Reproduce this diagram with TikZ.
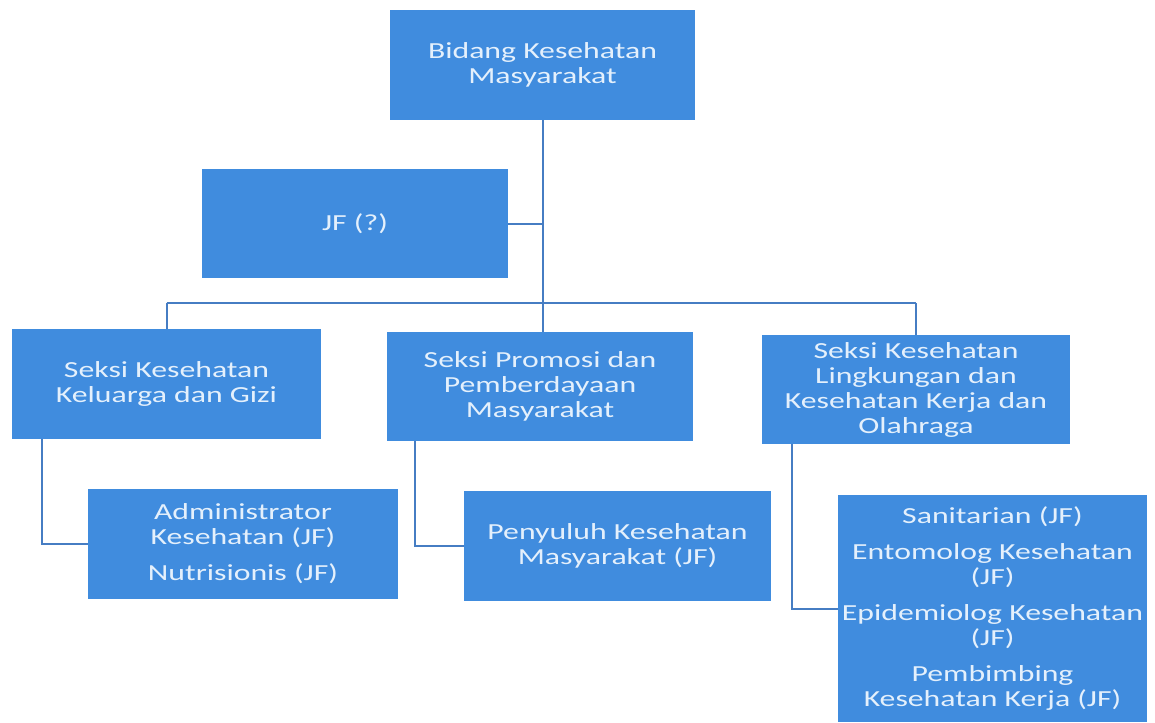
\documentclass[tikz,border=0pt]{standalone}
\usepackage{fontspec}
\setmainfont{Carlito}[FakeStretch=1.38]
\definecolor{boxblue}{RGB}{64,140,222}
\definecolor{lineblue}{RGB}{70,125,195}
\definecolor{txt}{RGB}{228,240,252}
\begin{document}
\begin{tikzpicture}[x=0.5pt,y=-0.5pt,
  orgbox/.style={fill=boxblue, draw=none, text=txt, align=center, inner sep=0pt,
    font=\fontsize{11.5}{12.5}\selectfont},
  link/.style={draw=lineblue, line width=1pt}]
\useasboundingbox (0,0) rectangle (1155,722);
\node[orgbox, minimum width=152.5pt, minimum height=55pt] (top) at (542.5,65) {Bidang Kesehatan\\Masyarakat};
\node[orgbox, minimum width=153pt, minimum height=54.5pt] (jf) at (355,223.5) {JF (?)};
\node[orgbox, minimum width=154.5pt, minimum height=55pt] (l) at (166.5,384) {Seksi Kesehatan\\Keluarga dan Gizi};
\node[orgbox, minimum width=153pt, minimum height=54.5pt] (m) at (540,386.5) {Seksi Promosi dan\\Pemberdayaan\\Masyarakat};
\node[orgbox, minimum width=154pt, minimum height=54.5pt] (r) at (916,389.5) {Seksi Kesehatan\\Lingkungan dan\\Kesehatan Kerja dan\\Olahraga};
\node[orgbox, minimum width=155pt, minimum height=55pt] (lk) at (243,544) {Administrator\\Kesehatan (JF)\\[5.5pt]Nutrisionis (JF)};
\node[orgbox, minimum width=153.5pt, minimum height=55pt] (mk) at (617.5,546) {Penyuluh Kesehatan\\Masyarakat (JF)};
\node[orgbox, minimum width=154.5pt, minimum height=113.5pt] (rk) at (992.5,608.5) {Sanitarian (JF)\\[5.5pt]Entomolog Kesehatan\\(JF)\\[5.5pt]Epidemiolog Kesehatan\\(JF)\\[5.5pt]Pembimbing\\Kesehatan Kerja (JF)};
\coordinate (busL) at (166.5,303);
\coordinate (busR) at (916,303);
\coordinate (trunk) at (542.5,303);
\coordinate (lx) at (42,0);
\coordinate (mx) at (415,0);
\coordinate (rx) at (792,0);
\draw[link] (top.south) -- (trunk |- m.north);
\draw[link] (jf.east) -- (jf.east -| top.south);
\draw[link] (busL) -- (busR);
\draw[link] (l.north) -- (busL);
\draw[link] (r.north) -- (busR);
\draw[link] (l.south -| lx) |- (lk.west);
\draw[link] (m.south -| mx) |- (mk.west);
\draw[link] (r.south -| rx) |- (rk.west);
\end{tikzpicture}
\end{document}
